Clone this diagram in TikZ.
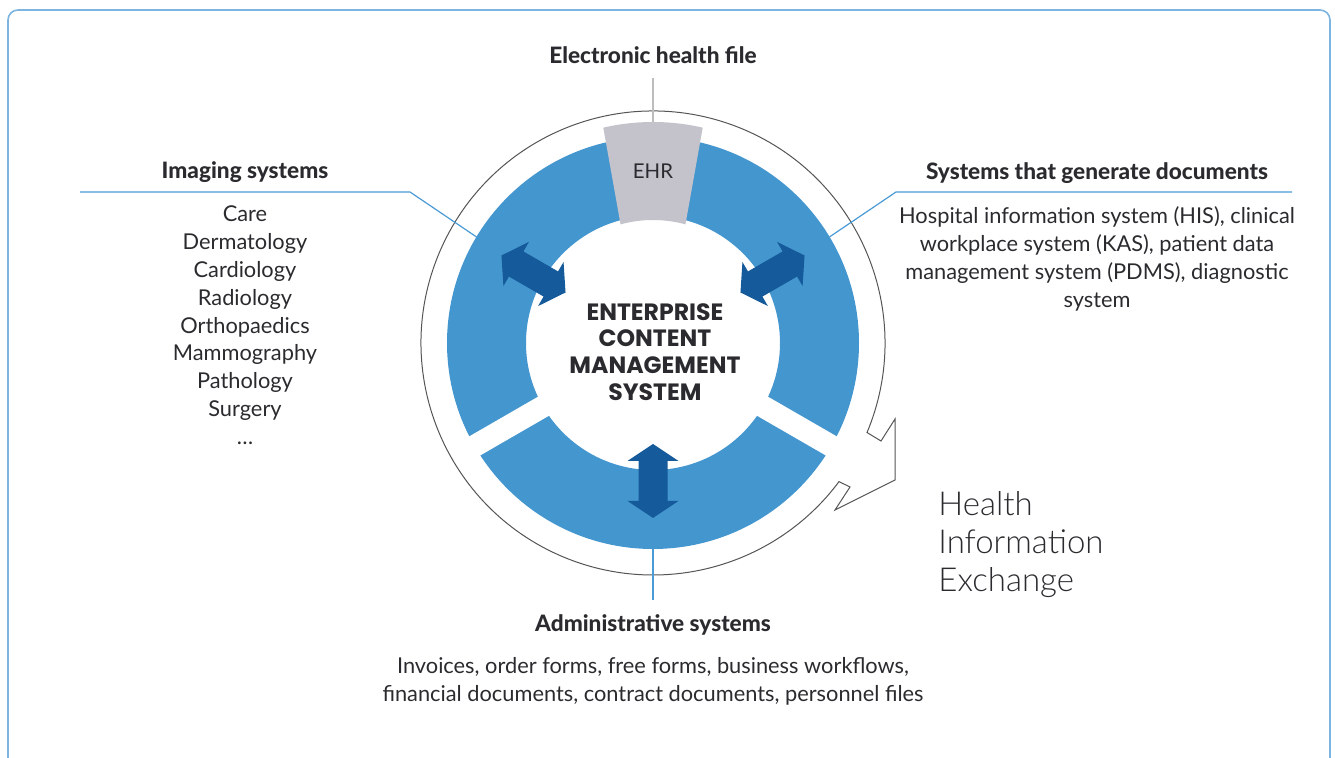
\documentclass[tikz,border=0pt]{standalone}
\usepackage{fontspec}
\setmainfont{Lato}
\newfontfamily\ecmfont{Poppins}
\newfontfamily\hiefont{Lato Light}
\newfontfamily\headfont{Lato Heavy}
\definecolor{ringblue}{HTML}{4496CF}
\definecolor{arrowblue}{HTML}{155A9A}
\definecolor{ehrgrey}{HTML}{C4C3CB}
\definecolor{txt}{HTML}{2B2A2E}
\definecolor{linkblue}{HTML}{4A9BD5}
\definecolor{outline}{HTML}{555555}
\definecolor{frameblue}{HTML}{7DB4E0}
\definecolor{topline}{HTML}{BDBDBD}
\begin{document}
\begin{tikzpicture}[x=0.5pt,y=0.5pt,
  head/.style={font=\headfont\fontsize{11.3}{13}\selectfont, text=txt, inner sep=0pt},
  body/.style={font=\fontsize{10.9}{14}\selectfont, text=txt, inner sep=0pt},
  link/.style={linkblue, line width=0.6pt}]
\useasboundingbox (0,0) rectangle (1335,-758);
\pgfmathsetmacro{\rin}{127};
\pgfmathsetmacro{\rout}{206};
\pgfmathsetmacro{\rhull}{232};

\coordinate (M) at (653,-343);

\draw[frameblue, line width=0.8pt, rounded corners=5pt]
(8,-758) -- (8,-10) -- (1330,-10) -- (1330,-758);

% ring
\fill[ringblue, even odd rule] (M) circle[radius=\rout] (M) circle[radius=\rin];
\foreach \a in {210,330}
\draw[white, line width=11pt] (M) ++(\a:118) -- ++(\a:100);

\fill[ehrgrey] ([shift={(77:221)}]M) arc[start angle=77, end angle=103, radius=221]
-- ([shift={(105.3:123)}]M) arc[start angle=105.3, end angle=74.7, radius=123] -- cycle;

% exchange
\draw[outline, line width=0.5pt, line join=miter]
([shift={(-22.7:\rhull)}]M) arc[start angle=-22.7, end angle=323.3, radius=\rhull]
-- (850,-487) -- (835,-510) -- (895,-480) -- (895,-419) -- (881,-441) -- cycle;

\foreach \a in {150,30,270}
\fill[arrowblue, shift={(M)}, rotate=\a]
(101,0) -- (118,25.5) -- (118,14.5) -- (158,14.5) -- (158,25.5) -- (175,0)
-- (158,-25.5) -- (158,-14.5) -- (118,-14.5) -- (118,-25.5) -- cycle;

\node[font=\fontsize{10.2}{12}\selectfont, text=txt] (ehr) at (653,-171) {EHR};
\node[font=\ecmfont\bfseries\fontsize{11.8}{13.4}\selectfont, text=txt, align=center, inner sep=0pt]
(ecm) at (655,-352) {ENTERPRISE\\CONTENT\\MANAGEMENT\\SYSTEM};

\node[head, anchor=base] (ehf) at (653,-64) {Electronic health file};
\node[head, anchor=base] (img) at (245,-179) {Imaging systems};
\node[head, anchor=base] (sgd) at (1097,-180) {Systems that generate documents};
\node[head, anchor=base] (adm) at (653,-632) {Administrative systems};

\coordinate (ehrtop) at ([shift={(90:221)}]M);
\coordinate (ehftail) at (653,-78);
\draw[topline, line width=0.6pt] (ehftail) -- (ehrtop);

\coordinate (imgA) at (80,-192);
\coordinate (imgB) at (410,-192);
\coordinate (imgC) at ([shift={(149:\rout)}]M);
\draw[link] (imgA) -- (imgB) -- (imgC);
\coordinate (sgdA) at (1292,-192);
\coordinate (sgdB) at (896,-192);
\coordinate (sgdC) at ([shift={(31:\rout)}]M);
\draw[link] (sgdA) -- (sgdB) -- (sgdC);
\coordinate (admA) at ([shift={(270:\rout)}]M);
\coordinate (admB) at (653,-600);
\draw[link] (admA) -- (admB);

\foreach \t [count=\i from 0] in {Care,Dermatology,Cardiology,Radiology,Orthopaedics,
Mammography,Pathology,Surgery,\ldots}
\node[body, anchor=base] (img\i) at (245,{-222-27.8*\i}) {\t};

\foreach \t [count=\i from 0] in {{Hospital information system (HIS), clinical},
{workplace system (KAS), patient data},{management system (PDMS), diagnostic},system}
\node[body, anchor=base] (sgd\i) at (1097,{-224-27.8*\i}) {\t};

\foreach \t [count=\i from 0] in {{Invoices, order forms, free forms, business workflows,},
{financial documents, contract documents, personnel files}}
\node[body, anchor=base] (adm\i) at (653,{-674-27.8*\i}) {\t};

\foreach \t [count=\i from 0] in {Health,Information,Exchange}
\node[font=\hiefont\fontsize{16.5}{19}\selectfont, text=txt, anchor=base west, inner sep=0pt]
(hie\i) at (938,{-516-38*\i}) {\t};

\end{tikzpicture}
\end{document}
